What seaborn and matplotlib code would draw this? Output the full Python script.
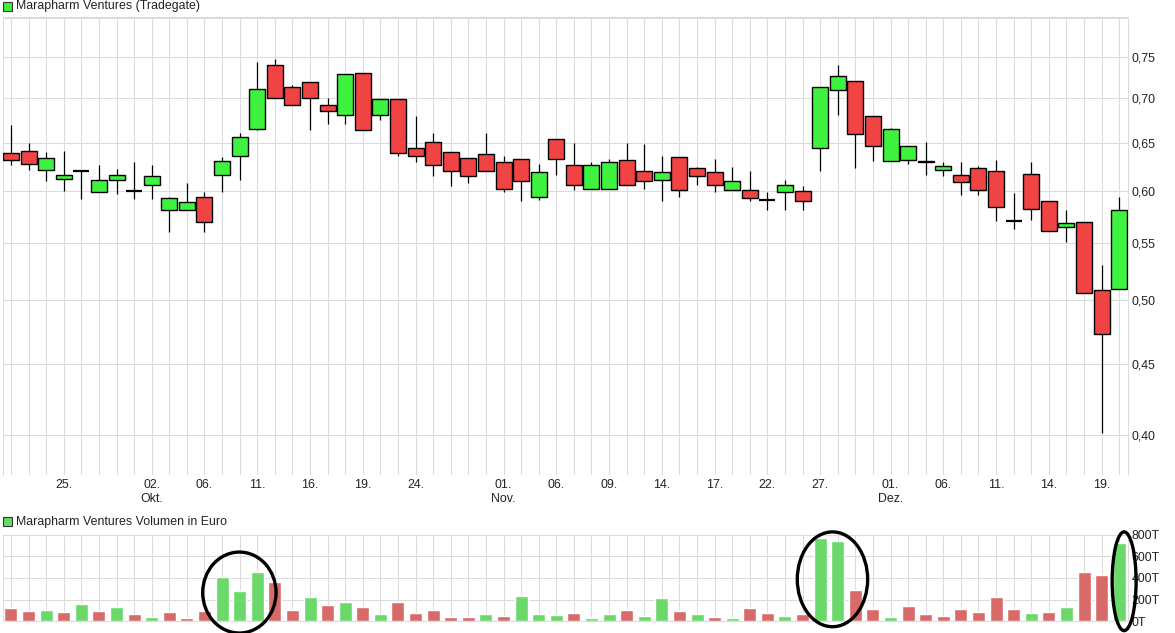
import numpy as np
import pandas as pd
import matplotlib
matplotlib.use("Agg")
import matplotlib.pyplot as plt
from matplotlib.patches import Rectangle, Ellipse
from matplotlib.ticker import FixedLocator, NullLocator, FuncFormatter
import seaborn as sns

# ---------------- data ----------------
opens = [0.639, 0.641, 0.6215, 0.612, 0.620, 0.599, 0.611, 0.600, 0.606, 0.581,
         0.581, 0.594, 0.616, 0.636, 0.665, 0.7395, 0.713, 0.719, 0.692, 0.681,
         0.730, 0.681, 0.699, 0.644, 0.6505, 0.640, 0.634, 0.638, 0.630, 0.633,
         0.594, 0.654, 0.626, 0.602, 0.602, 0.632, 0.620, 0.611, 0.635, 0.6235,
         0.619, 0.601, 0.601, 0.591, 0.599, 0.600, 0.644, 0.710, 0.7205, 0.679,
         0.631, 0.632, 0.631, 0.6215, 0.616, 0.6235, 0.620, 0.571, 0.617, 0.590,
         0.565, 0.570, 0.509, 0.510]
highs = [0.670, 0.650, 0.6405, 0.6415, 0.620, 0.626, 0.622, 0.629, 0.626, 0.594,
         0.608, 0.599, 0.635, 0.661, 0.744, 0.747, 0.716, 0.719, 0.7005, 0.729,
         0.730, 0.699, 0.699, 0.679, 0.661, 0.640, 0.634, 0.661, 0.636, 0.633,
         0.627, 0.654, 0.650, 0.629, 0.633, 0.650, 0.649, 0.636, 0.635, 0.6245,
         0.633, 0.6245, 0.620, 0.599, 0.611, 0.605, 0.713, 0.740, 0.7205, 0.679,
         0.666, 0.647, 0.651, 0.630, 0.630, 0.6255, 0.632, 0.598, 0.630, 0.590,
         0.581, 0.570, 0.530, 0.594]
lows = [0.626, 0.621, 0.610, 0.600, 0.592, 0.599, 0.597, 0.592, 0.592, 0.560,
        0.581, 0.560, 0.599, 0.611, 0.664, 0.700, 0.692, 0.664, 0.671, 0.671,
        0.664, 0.675, 0.6355, 0.629, 0.615, 0.6045, 0.608, 0.620, 0.599, 0.590,
        0.591, 0.616, 0.601, 0.602, 0.602, 0.606, 0.602, 0.590, 0.594, 0.6055,
        0.599, 0.601, 0.590, 0.581, 0.581, 0.581, 0.620, 0.681, 0.623, 0.631,
        0.631, 0.627, 0.616, 0.615, 0.5955, 0.5955, 0.571, 0.5635, 0.572, 0.5615,
        0.551, 0.506, 0.401, 0.510]
closes = [0.632, 0.627, 0.634, 0.616, 0.620, 0.611, 0.616, 0.600, 0.615, 0.593,
          0.589, 0.570, 0.631, 0.656, 0.711, 0.700, 0.692, 0.700, 0.6855, 0.729,
          0.664, 0.699, 0.639, 0.636, 0.626, 0.620, 0.615, 0.620, 0.602, 0.610,
          0.619, 0.633, 0.606, 0.626, 0.630, 0.606, 0.610, 0.619, 0.601, 0.615,
          0.606, 0.610, 0.593, 0.591, 0.606, 0.5895, 0.713, 0.726, 0.660, 0.647,
          0.665, 0.647, 0.629, 0.6255, 0.609, 0.601, 0.5845, 0.571, 0.582, 0.5615,
          0.569, 0.506, 0.473, 0.581]
# volume in thousand euro (T)
volumes_t = [123, 95, 104, 86, 159, 95, 132, 67, 40, 86,
             31, 95, 408, 279, 454, 362, 104, 224, 150, 178,
             132, 67, 178, 77, 104, 40, 40, 67, 49, 233,
             67, 58, 77, 31, 67, 104, 49, 215, 95, 67,
             40, 31, 123, 77, 49, 67, 766, 739, 288, 113,
             40, 141, 67, 49, 113, 86, 224, 113, 77, 86,
             132, 454, 426, 720]
date_tick_pos = [3, 8, 11, 14, 17, 20, 23, 28, 31, 34, 37, 40, 43, 46, 50, 53, 56, 59, 62]
date_tick_labels = ["25.", "02.\nOkt.", "06.", "11.", "16.", "19.", "24.", "01.\nNov.",
                    "06.", "09.", "14.", "17.", "22.", "27.", "01.\nDez.", "06.", "11.",
                    "14.", "19."]
price_ticks = [0.40, 0.45, 0.50, 0.55, 0.60, 0.65, 0.70, 0.75]
price_grid = price_ticks + [0.80]
vol_ticks = [0, 200, 400, 600, 800]
# hand-drawn highlight ellipses: (first bar, last bar, lower volume, upper volume)
highlights = [(10.9, 15.07, -108, 638), (44.7, 48.7, -50, 824), (62.6, 63.96, -86, 824)]

# ---------------- styling ----------------
sns.set_theme(style="white")
plt.rcParams["font.family"] = ["Liberation Sans", "DejaVu Sans"]
GREEN = "#3ff23f"
RED = "#f04343"
VGREEN = "#6ad96a"
VRED = "#d96a6a"
GRID = "#dcdcdc"
TXT = "#222222"
FS = 8.9

W, H = 1175, 633
fig = plt.figure(figsize=(W / 100, H / 100), dpi=100)
fig.patch.set_facecolor("white")

left, right = 2.7, 1128
ax = fig.add_axes([left / W, 1 - 475 / H, (right - left) / W, (475 - 17) / H])
axv = fig.add_axes([left / W, 1 - 621.3 / H, (right - left) / W, (621.3 - 534.5) / H])

n = len(opens)
idx = np.arange(n)
o = np.array(opens); c = np.array(closes); hi = np.array(highs); lo = np.array(lows)

# ---------------- price candles ----------------
ax.set_yscale("log")
ax.vlines(idx, lo, hi, color="black", lw=0.9, zorder=2)
body = np.abs(c - o) > 1e-9
cols = np.where(c > o, GREEN, RED)
ax.bar(idx[body], np.abs(c - o)[body], bottom=np.minimum(o, c)[body], width=0.91,
       color=cols[body], edgecolor="black", linewidth=1.0, zorder=3)
doji = ~body
ax.hlines(c[doji], idx[doji] - 0.455, idx[doji] + 0.455, color="black", lw=1.6, zorder=3)

ax.set_xlim(-0.47, n - 0.5)
ax.set_ylim(0.374, 0.8012)
ax.yaxis.set_major_locator(FixedLocator(price_grid))
ax.yaxis.set_minor_locator(NullLocator())
ax.yaxis.set_major_formatter(FuncFormatter(
    lambda v, p: "" if v > 0.78 else f"{v:.2f}".replace(".", ",")))
ax.yaxis.tick_right()
ax.set_xticks(idx)
lab = [""] * n
for p, t in zip(date_tick_pos, date_tick_labels):
    lab[p] = t
ax.set_xticklabels(lab)
ax.tick_params(axis="both", length=0, labelsize=FS, labelcolor=TXT)
ax.tick_params(axis="y", pad=2.5)
ax.tick_params(axis="x", pad=3.0)
ax.grid(True, color=GRID, lw=0.75)
ax.set_axisbelow(True)
for s in ax.spines.values():
    s.set_color(GRID); s.set_linewidth(0.75)
ax.spines["bottom"].set_visible(False)

# ---------------- volume ----------------
cprev = np.concatenate([[np.inf], c[:-1]])
vdir = np.where(c > cprev, "up", "down")
dfv = pd.DataFrame({"idx": idx, "vol": volumes_t, "dir": vdir})
sns.barplot(data=dfv, x="idx", y="vol", hue="dir", palette={"up": VGREEN, "down": VRED},
            dodge=False, native_scale=True, width=0.74, errorbar=None, saturation=1,
            legend=False, ax=axv)
axv.set_xlim(-0.47, n - 0.5)
axv.set_ylim(0, 800)
axv.set_xlabel(""); axv.set_ylabel("")
axv.set_xticks(idx)
axv.set_xticklabels([""] * n)
axv.set_yticks(vol_ticks)
axv.set_yticklabels([f"{v}T" for v in vol_ticks])
axv.yaxis.tick_right()
axv.tick_params(axis="both", length=0, labelsize=FS, labelcolor=TXT)
axv.tick_params(axis="y", pad=2.5)
axv.grid(True, color=GRID, lw=0.75)
axv.set_axisbelow(True)
for s in axv.spines.values():
    s.set_color(GRID); s.set_linewidth(0.75)

for a, b, vlo, vhi in highlights:
    e = Ellipse(((a + b) / 2, (vlo + vhi) / 2), b - a, vhi - vlo, fill=False,
                edgecolor="black", lw=2.4, clip_on=False, zorder=6)
    axv.add_patch(e)

# ---------------- legends (titles) ----------------
fig.patches.append(Rectangle((3 / W, 1 - 11 / H), 9 / W, 9 / H, transform=fig.transFigure,
                             facecolor=GREEN, edgecolor="#333333", lw=0.8))
fig.text(16 / W, 1 - 6.5 / H, "Marapharm Ventures (Tradegate)", va="center", ha="left",
         fontsize=FS, color=TXT)
fig.patches.append(Rectangle((3 / W, 1 - 526 / H), 9 / W, 9 / H, transform=fig.transFigure,
                             facecolor=VGREEN, edgecolor="#333333", lw=0.8))
fig.text(16 / W, 1 - 521.5 / H, "Marapharm Ventures Volumen in Euro", va="center", ha="left",
         fontsize=FS, color=TXT)

fig.savefig("out.png", dpi=100)
